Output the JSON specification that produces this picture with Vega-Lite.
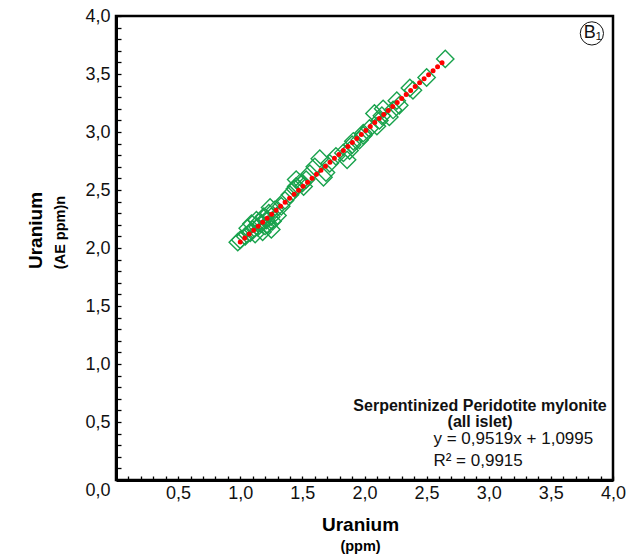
{
  "$schema": "https://vega.github.io/schema/vega-lite/v6.json",
  "width": 497,
  "height": 464,
  "autosize": {"type": "none"},
  "padding": {"left": 116, "top": 16, "right": 15, "bottom": 78},
  "background": "white",
  "config": {
    "view": {"stroke": "black", "strokeWidth": 2.5},
    "font": "Liberation Sans",
    "axis": {"grid": false}
  },
  "datasets": {
    "points": [
      {"u": 0.98, "ae": 2.05}, {"u": 1.00, "ae": 2.07}, {"u": 1.04, "ae": 2.10}, {"u": 1.08, "ae": 2.13},
      {"u": 1.10, "ae": 2.16}, {"u": 1.14, "ae": 2.18}, {"u": 1.17, "ae": 2.21}, {"u": 1.21, "ae": 2.24},
      {"u": 1.25, "ae": 2.27}, {"u": 1.23, "ae": 2.30}, {"u": 1.28, "ae": 2.33}, {"u": 1.33, "ae": 2.36},
      {"u": 1.25, "ae": 2.16}, {"u": 1.09, "ae": 2.21}, {"u": 1.36, "ae": 2.41}, {"u": 1.40, "ae": 2.46},
      {"u": 1.45, "ae": 2.53}, {"u": 1.50, "ae": 2.56}, {"u": 1.12, "ae": 2.12}, {"u": 1.15, "ae": 2.22},
      {"u": 1.18, "ae": 2.14}, {"u": 1.20, "ae": 2.19}, {"u": 1.22, "ae": 2.20}, {"u": 1.26, "ae": 2.23},
      {"u": 1.19, "ae": 2.27}, {"u": 1.13, "ae": 2.24}, {"u": 1.24, "ae": 2.35}, {"u": 1.30, "ae": 2.28},
      {"u": 1.06, "ae": 2.17}, {"u": 1.64, "ae": 2.77}, {"u": 1.60, "ae": 2.70}, {"u": 1.56, "ae": 2.64},
      {"u": 1.53, "ae": 2.59}, {"u": 1.67, "ae": 2.61}, {"u": 1.69, "ae": 2.65}, {"u": 1.48, "ae": 2.56},
      {"u": 1.44, "ae": 2.51}, {"u": 1.86, "ae": 2.76}, {"u": 1.83, "ae": 2.82}, {"u": 1.88, "ae": 2.84},
      {"u": 1.96, "ae": 2.93}, {"u": 1.99, "ae": 2.97}, {"u": 1.45, "ae": 2.59}, {"u": 1.51, "ae": 2.53},
      {"u": 1.90, "ae": 2.89}, {"u": 1.77, "ae": 2.79}, {"u": 1.72, "ae": 2.73}, {"u": 1.91, "ae": 2.92},
      {"u": 1.99, "ae": 2.99}, {"u": 2.08, "ae": 3.16}, {"u": 2.15, "ae": 3.20}, {"u": 2.10, "ae": 3.05},
      {"u": 2.12, "ae": 3.10}, {"u": 2.20, "ae": 3.13}, {"u": 2.23, "ae": 3.19}, {"u": 2.28, "ae": 3.23},
      {"u": 2.26, "ae": 3.27}, {"u": 2.39, "ae": 3.36}, {"u": 2.365, "ae": 3.38}, {"u": 2.50, "ae": 3.47},
      {"u": 2.65, "ae": 3.63}, {"u": 2.04, "ae": 3.03}, {"u": 2.14, "ae": 3.14}
    ],
    "fit": [{"u": 1.0, "ae": 2.051}, {"u": 2.65, "ae": 3.622}],
    "one": [{}]
  },
  "layer": [
    {
      "data": {"name": "points"},
      "mark": {"type": "point", "shape": "diamond", "filled": false, "size": 300, "stroke": "#18a24c", "strokeWidth": 1.4, "opacity": 1},
      "encoding": {
        "x": {
          "field": "u", "type": "quantitative",
          "scale": {"domain": [0, 4], "nice": false, "zero": false},
          "axis": {
            "orient": "bottom",
            "values": [0,0.1,0.2,0.3,0.4,0.5,0.6,0.7,0.8,0.9,1,1.1,1.2,1.3,1.4,1.5,1.6,1.7,1.8,1.9,2,2.1,2.2,2.3,2.4,2.5,2.6,2.7,2.8,2.9,3,3.1,3.2,3.3,3.4,3.5,3.6,3.7,3.8,3.9,4],
            "labelExpr": "datum.value < 0.01 ? '' : (abs(datum.value*2 - round(datum.value*2)) < 0.001 ? replace(format(datum.value, '.1f'), '.', ',') : '')",
            "domainColor": "black", "domainWidth": 3,
            "tickColor": "black", "tickWidth": 1.3, "tickSize": -4,
            "labelFontSize": 18, "labelColor": "#111", "labelPadding": 8, "labelFlush": false, "labelOverlap": false,
            "title": "Uranium", "titleFontSize": 19, "titleFontWeight": "bold", "titleColor": "#000",
            "titleX": 244, "titleY": 44, "titleAlign": "center", "titleBaseline": "middle"
          }
        },
        "y": {
          "field": "ae", "type": "quantitative",
          "scale": {"domain": [0, 4], "nice": false, "zero": false},
          "axis": {
            "orient": "left",
            "values": [0,0.1,0.2,0.3,0.4,0.5,0.6,0.7,0.8,0.9,1,1.1,1.2,1.3,1.4,1.5,1.6,1.7,1.8,1.9,2,2.1,2.2,2.3,2.4,2.5,2.6,2.7,2.8,2.9,3,3.1,3.2,3.3,3.4,3.5,3.6,3.7,3.8,3.9,4],
            "labelExpr": "abs(datum.value*2 - round(datum.value*2)) < 0.001 ? replace(format(datum.value, '.1f'), '.', ',') : ''",
            "labelOffset": {"condition": {"test": "datum.value == 0", "value": 10}, "value": 0},
            "domainColor": "black", "domainWidth": 3,
            "tickColor": "black", "tickWidth": 1.3, "tickSize": -5,
            "labelFontSize": 18, "labelColor": "#111", "labelPadding": 11, "labelFlush": false, "labelOverlap": false,
            "title": "Uranium", "titleFontSize": 19, "titleFontWeight": "bold", "titleColor": "#000",
            "titleX": -81, "titleY": 214, "titleAlign": "center", "titleBaseline": "middle", "titleAngle": -90
          }
        }
      }
    },
    {
      "data": {"name": "fit"},
      "mark": {"type": "line", "color": "#ff0000", "strokeWidth": 5, "strokeCap": "round", "strokeDash": [0, 6]},
      "encoding": {
        "x": {"field": "u", "type": "quantitative", "axis": null},
        "y": {"field": "ae", "type": "quantitative", "axis": null}
      }
    },
    {
      "data": {"name": "one"},
      "mark": {"type": "text", "text": "Serpentinized Peridotite mylonite", "fontSize": 16, "fontWeight": "bold", "align": "center", "baseline": "middle", "color": "#111"},
      "encoding": {
        "x": {"datum": 2.93, "type": "quantitative", "axis": null},
        "y": {"datum": 0.635, "type": "quantitative", "axis": null}
      }
    },
    {
      "data": {"name": "one"},
      "mark": {"type": "text", "text": "(all islet)", "fontSize": 16, "fontWeight": "bold", "align": "center", "baseline": "middle", "color": "#111"},
      "encoding": {
        "x": {"datum": 2.93, "type": "quantitative", "axis": null},
        "y": {"datum": 0.5, "type": "quantitative", "axis": null}
      }
    },
    {
      "data": {"name": "one"},
      "mark": {"type": "text", "text": "y = 0,9519x + 1,0995", "fontSize": 17, "align": "left", "baseline": "middle", "color": "#111"},
      "encoding": {
        "x": {"datum": 2.555, "type": "quantitative", "axis": null},
        "y": {"datum": 0.355, "type": "quantitative", "axis": null}
      }
    },
    {
      "data": {"name": "one"},
      "mark": {"type": "text", "text": "R² = 0,9915", "fontSize": 17, "align": "left", "baseline": "middle", "color": "#111"},
      "encoding": {
        "x": {"datum": 2.555, "type": "quantitative", "axis": null},
        "y": {"datum": 0.165, "type": "quantitative", "axis": null}
      }
    },
    {
      "data": {"name": "one"},
      "mark": {"type": "point", "shape": "circle", "filled": false, "size": 540, "stroke": "#111", "strokeWidth": 1, "opacity": 1},
      "encoding": {
        "x": {"datum": 3.83, "type": "quantitative", "axis": null},
        "y": {"datum": 3.85, "type": "quantitative", "axis": null}
      }
    },
    {
      "data": {"name": "one"},
      "mark": {"type": "text", "text": "B₁", "fontSize": 18, "align": "center", "baseline": "middle", "color": "#111", "dx": 1},
      "encoding": {
        "x": {"datum": 3.83, "type": "quantitative", "axis": null},
        "y": {"datum": 3.85, "type": "quantitative", "axis": null}
      }
    },
    {
      "data": {"name": "one"},
      "mark": {"type": "point", "opacity": 0},
      "encoding": {
        "x": {"datum": 0, "type": "quantitative", "axis": {
          "orient": "bottom", "labels": false, "ticks": false, "domain": false, "grid": false,
          "title": "(ppm)", "titleFontSize": 14.5, "titleFontWeight": "bold", "titleColor": "#000",
          "titleX": 244, "titleY": 66, "titleAlign": "center", "titleBaseline": "middle"
        }},
        "y": {"datum": 0, "type": "quantitative", "axis": {
          "orient": "left", "labels": false, "ticks": false, "domain": false, "grid": false,
          "title": "(AE ppm)n", "titleFontSize": 14.5, "titleFontWeight": "bold", "titleColor": "#000",
          "titleX": -56, "titleY": 216, "titleAlign": "center", "titleBaseline": "middle", "titleAngle": -90
        }}
      }
    }
  ],
  "resolve": {"axis": {"x": "independent", "y": "independent"}}
}
